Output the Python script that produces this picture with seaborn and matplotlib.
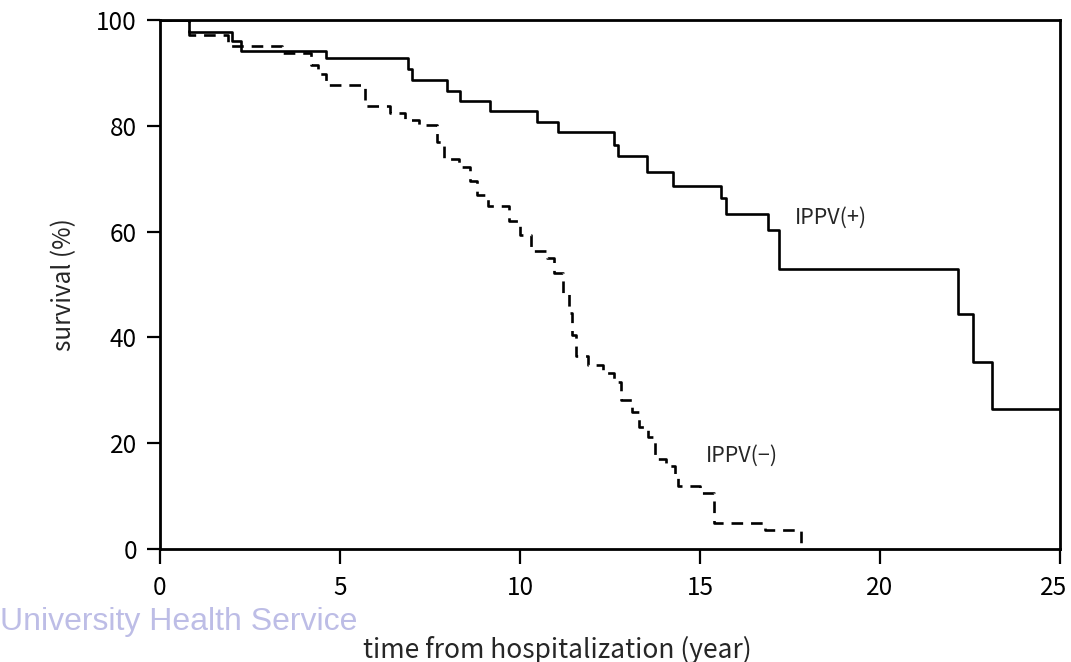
import matplotlib.pyplot as plt
import matplotlib.transforms as mtransforms
import numpy as np
import pandas as pd
import seaborn as sns

# Kaplan-Meier steps, value holds from each time until the next one
time_pos = [0, 0.8, 2.0, 2.24, 4.6, 6.88, 7.0, 7.96, 8.33, 9.17, 10.46, 11.05,
            12.6, 12.71, 13.54, 14.26, 15.57, 15.72, 16.9, 17.19, 22.16, 22.59,
            23.12, 25]
surv_pos = [100, 97.7, 96.1, 94.1, 92.8, 90.7, 88.7, 86.6, 84.7, 82.8, 80.8, 78.8,
            76.4, 74.3, 71.3, 68.7, 66.4, 63.4, 60.3, 52.9, 44.4, 35.4,
            26.4, 26.4]

time_neg = [0, 0.8, 1.9, 3.4, 4.2, 4.4, 4.6, 5.7, 6.4, 6.8, 7.2, 7.7, 7.9,
            8.3, 8.6, 8.8, 9.1, 9.7, 10.0, 10.3, 10.75, 10.95, 11.2, 11.35,
            11.45, 11.55, 11.9, 12.3, 12.6, 12.8, 13.1, 13.3, 13.55, 13.75,
            14.05, 14.3, 14.4, 15.0, 15.4, 16.8, 17.8]
surv_neg = [100, 97.2, 95.1, 93.8, 91.5, 89.8, 87.7, 83.8, 82.5, 81.1, 80.2, 77.0, 73.8,
            72.3, 69.5, 67.0, 64.8, 62.0, 59.4, 56.4, 55.0, 52.2, 48.4, 44.6,
            40.5, 36.4, 34.8, 33.3, 31.6, 28.2, 25.9, 23.1, 21.2, 17.1,
            15.6, 13.7, 12.0, 10.5, 5.0, 3.6, 0.0]

x_ticks = [0, 5, 10, 15, 20, 25]
y_ticks = [0, 20, 40, 60, 80, 100]

sns.set_style("ticks")
plt.rcParams["font.family"] = ["Noto Sans CJK JP", "DejaVu Sans"]

df_pos = pd.DataFrame({"t": time_pos, "s": surv_pos})
df_neg = pd.DataFrame({"t": time_neg, "s": surv_neg})

fig = plt.figure(figsize=(10.71, 6.62), dpi=100)
ax = fig.add_axes([0.1494, 0.1707, 0.8403, 0.7991])

sns.lineplot(data=df_pos, x="t", y="s", ax=ax, color="black", linewidth=1.9,
             drawstyle="steps-post", estimator=None)
sns.lineplot(data=df_neg, x="t", y="s", ax=ax, color="black", linewidth=1.9,
             drawstyle="steps-post", estimator=None, linestyle=(0, (4.4, 3.0)))

ax.set_xlim(0, 25)
ax.set_ylim(0, 100)
ax.set_xticks(x_ticks)
ax.set_yticks(y_ticks)
ax.tick_params(direction="out", width=1.6, labelsize=17.5, colors="black")
ax.tick_params(axis="x", length=11, pad=8)
ax.tick_params(axis="y", length=9.5, pad=7)
for sp in ax.spines.values():
    sp.set_linewidth(2.0)
    sp.set_color("black")

# last x label sits flush with the figure edge, nudge it left a little
last = ax.get_xticklabels()[-1]
last.set_transform(last.get_transform() +
                   mtransforms.ScaledTranslation(-6 / 100, 0, fig.dpi_scale_trans))

ax.set_xlabel("")
ax.set_ylabel("survival (%)", fontsize=17.5, labelpad=14)

ax.text(17.64, 62.6, "IPPV(+)", fontsize=15.5, va="center", ha="left")
ax.text(15.17, 17.6, "IPPV(\u2212)", fontsize=15.5, va="center", ha="left")

fig.text(0.52, 0.018, "time from hospitalization (year)", fontsize=19,
         ha="center", va="center")
fig.text(0.0, 0.06, "University Health Service", fontsize=23,
         color="#bdbde6", ha="left", va="center",
         family=["Liberation Sans", "DejaVu Sans"])

fig.savefig("out.png", dpi=100)
